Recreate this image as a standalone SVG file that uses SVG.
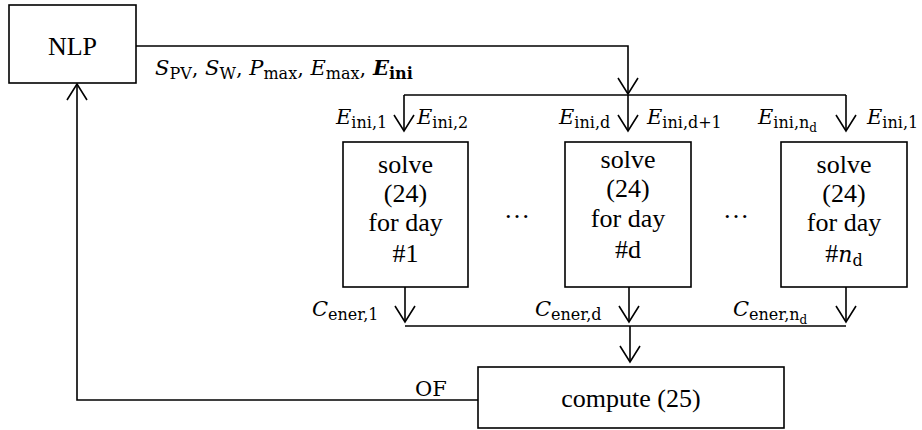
<svg xmlns="http://www.w3.org/2000/svg" width="922" height="430" viewBox="0 0 922 430">
<defs>
<style>
.box{fill:#fff;stroke:#000;stroke-width:1.6}
.ln{fill:none;stroke:#000;stroke-width:1.6}
.t{font-family:"Liberation Serif","Times New Roman",serif;font-size:26px;text-anchor:middle;fill:#000}
.m{font-family:"DejaVu Serif","Liberation Serif",serif;font-size:21px;font-style:italic;fill:#000}
.s{font-size:16px;font-style:normal}
.ss{font-size:12px;font-style:normal}
.u{font-style:normal}
</style>
<marker id="v" viewBox="-18 -12 20 24" markerWidth="20" markerHeight="24" refX="0" refY="0" orient="auto" markerUnits="userSpaceOnUse" overflow="visible">
<path d="M-16,-10 L0,0 L-16,10" fill="none" stroke="#000" stroke-width="1.6"/>
</marker>
</defs>
<rect width="922" height="430" fill="#fff"/>
<g id="connectors">
<path class="ln" d="M136,46 H628 V94" marker-end="url(#v)"/>
<path class="ln" d="M404,95 H846"/>
<path class="ln" d="M404,95 V131" marker-end="url(#v)"/>
<path class="ln" d="M628,95 V131" marker-end="url(#v)"/>
<path class="ln" d="M846,95 V131" marker-end="url(#v)"/>
<path class="ln" d="M405,287 V322" marker-end="url(#v)"/>
<path class="ln" d="M629,287 V322" marker-end="url(#v)"/>
<path class="ln" d="M846,287 V322" marker-end="url(#v)"/>
<path class="ln" d="M405,326 H846"/>
<path class="ln" d="M630,326 V362" marker-end="url(#v)"/>
<path class="ln" d="M478,400 H77 V84" marker-end="url(#v)"/>
<text class="m" x="155" y="75">S<tspan class="s" dy="4">PV</tspan><tspan class="u" dy="-4">, </tspan>S<tspan class="s" dy="4">W</tspan><tspan class="u" dy="-4">, </tspan>P<tspan class="s" dy="4">max</tspan><tspan class="u" dy="-4">, </tspan>E<tspan class="s" dy="4">max</tspan><tspan class="u" dy="-4">, </tspan><tspan font-weight="bold">E</tspan><tspan class="s" font-weight="bold" dy="4">ini</tspan></text>
<text class="m" x="336" y="124">E<tspan class="s" dy="4">ini,1</tspan></text>
<text class="m" x="417" y="124">E<tspan class="s" dy="4">ini,2</tspan></text>
<text class="m" x="559" y="124">E<tspan class="s" dy="4">ini,d</tspan></text>
<text class="m" x="647" y="124">E<tspan class="s" dy="4">ini,d+1</tspan></text>
<text class="m" x="758" y="124">E<tspan class="s" dy="4">ini,n</tspan><tspan class="ss" dy="4">d</tspan></text>
<text class="m" x="867" y="124">E<tspan class="s" dy="4">ini,1</tspan></text>
<text class="m" x="312" y="316">C<tspan class="s" dy="4">ener,1</tspan></text>
<text class="m" x="535" y="316">C<tspan class="s" dy="4">ener,d</tspan></text>
<text class="m" x="733" y="316">C<tspan class="s" dy="4">ener,n</tspan><tspan class="ss" dy="4">d</tspan></text>
<text class="m u" x="415" y="396" font-size="19">OF</text>
<text class="t" x="517" y="218">…</text>
<text class="t" x="736" y="218">…</text>
</g>
<g id="nlp">
<rect class="box" x="9" y="5" width="127" height="78"/>
<text class="t" x="72.5" y="55">NLP</text>
</g>
<g id="day1">
<rect class="box" x="343" y="142" width="125" height="145"/>
<text class="t" x="405.5" y="173">solve</text>
<text class="t" x="405.5" y="202">(24)</text>
<text class="t" x="405.5" y="231">for day</text>
<text class="t" x="405.5" y="262">#1</text>
</g>
<g id="dayd">
<rect class="box" x="565" y="142" width="126" height="145"/>
<text class="t" x="628" y="168">solve</text>
<text class="t" x="628" y="197">(24)</text>
<text class="t" x="628" y="227">for day</text>
<text class="t" x="628" y="258">#d</text>
</g>
<g id="dayn">
<rect class="box" x="781" y="142" width="126" height="145"/>
<text class="t" x="844" y="173">solve</text>
<text class="t" x="844" y="202">(24)</text>
<text class="t" x="844" y="231">for day</text>
<text class="t" x="844" y="262">#<tspan font-family="DejaVu Serif" font-style="italic" font-size="22">n</tspan><tspan font-family="DejaVu Serif" font-size="16" dy="4">d</tspan></text>
</g>
<g id="compute">
<rect class="box" x="478" y="367" width="306" height="61"/>
<text class="t" x="631" y="407">compute (25)</text>
</g>
</svg>
